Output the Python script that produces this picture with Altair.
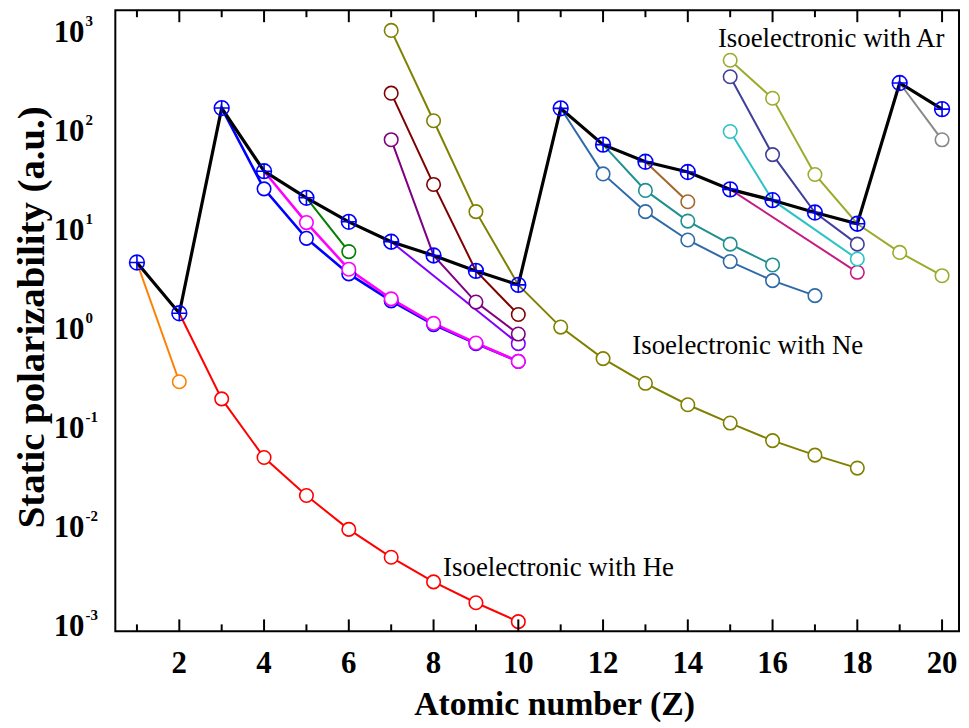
import altair as alt
import pandas as pd

# ---------------- data ----------------
Z_atoms = list(range(1, 21))
alpha_atoms = [4.5, 1.38, 164.0, 37.7, 20.3, 11.6, 7.3, 5.3, 3.7, 2.67,
               163.0, 70.0, 47.0, 37.0, 24.7, 19.2, 14.4, 11.1, 294.0, 160.0]

seq_names = ["H", "He", "Li", "Be", "B", "N", "O", "F", "Ne",
             "Na", "Mg", "Al", "P", "S", "Cl", "Ar", "K"]
seq_colors = ["#ff8000", "#ff0000", "#0000ff", "#ff00ff", "#008000", "#8000ff",
              "#800080", "#800000", "#808000", "#2f6aa8", "#1e9090", "#a5652a",
              "#c71a80", "#2cc2c8", "#40409a", "#9bab2c", "#888888"]

seq_H_Z = [1, 2]
seq_H_alpha = [4.5, 0.28]
seq_He_Z = [2, 3, 4, 5, 6, 7, 8, 9, 10]
seq_He_alpha = [1.38, 0.188, 0.048, 0.0198, 0.0090, 0.0047, 0.00265, 0.00163, 0.00105]
seq_Li_Z = [3, 4, 5, 6, 7, 8, 9, 10]
seq_Li_alpha = [164.0, 25.0, 7.9, 3.45, 1.84, 1.06, 0.68, 0.45]
seq_Be_Z = [4, 5, 6, 7, 8, 9, 10]
seq_Be_alpha = [37.7, 11.4, 3.85, 1.93, 1.09, 0.69, 0.45]
seq_B_Z = [5, 6]
seq_B_alpha = [20.3, 5.8]
seq_N_Z = [7, 10]
seq_N_alpha = [7.3, 0.68]
seq_O_Z = [7, 8, 9, 10]
seq_O_alpha = [78.5, 5.3, 1.79, 0.85]
seq_F_Z = [7, 8, 9, 10]
seq_F_alpha = [232.0, 27.7, 3.7, 1.34]
seq_Ne_Z = [7, 8, 9, 10, 11, 12, 13, 14, 15, 16, 17, 18]
seq_Ne_alpha = [1000.0, 122.0, 14.7, 2.67, 1.0, 0.48, 0.27, 0.164, 0.107, 0.0711, 0.0507, 0.0375]
seq_Na_Z = [11, 12, 13, 14, 15, 16, 17]
seq_Na_alpha = [163.0, 35.4, 14.7, 7.6, 4.6, 2.95, 2.08]
seq_Mg_Z = [12, 13, 14, 15, 16]
seq_Mg_alpha = [70.0, 24.1, 11.8, 6.9, 4.25]
seq_Al_Z = [13, 14]
seq_Al_alpha = [47.0, 18.5]
seq_P_Z = [15, 18]
seq_P_alpha = [24.7, 3.58]
seq_S_Z = [15, 16, 18]
seq_S_alpha = [95.0, 19.2, 4.88]
seq_Cl_Z = [15, 16, 17, 18]
seq_Cl_alpha = [340.0, 55.5, 14.4, 6.9]
seq_Ar_Z = [15, 16, 17, 18, 19, 20]
seq_Ar_alpha = [499.0, 206.0, 34.9, 11.1, 5.69, 3.31]
seq_K_Z = [19, 20]
seq_K_alpha = [294.0, 78.3]

x_tick_values = list(range(1, 21))
y_decades = [1e-3, 1e-2, 1e-1, 1e0, 1e1, 1e2, 1e3]
y_exponents = ["-3", "-2", "-1", "0", "1", "2", "3"]

# ---------------- tables ----------------
seq_data = {
    "H": (seq_H_Z, seq_H_alpha), "He": (seq_He_Z, seq_He_alpha),
    "Li": (seq_Li_Z, seq_Li_alpha), "Be": (seq_Be_Z, seq_Be_alpha),
    "B": (seq_B_Z, seq_B_alpha), "N": (seq_N_Z, seq_N_alpha),
    "O": (seq_O_Z, seq_O_alpha), "F": (seq_F_Z, seq_F_alpha),
    "Ne": (seq_Ne_Z, seq_Ne_alpha), "Na": (seq_Na_Z, seq_Na_alpha),
    "Mg": (seq_Mg_Z, seq_Mg_alpha), "Al": (seq_Al_Z, seq_Al_alpha),
    "P": (seq_P_Z, seq_P_alpha), "S": (seq_S_Z, seq_S_alpha),
    "Cl": (seq_Cl_Z, seq_Cl_alpha), "Ar": (seq_Ar_Z, seq_Ar_alpha),
    "K": (seq_K_Z, seq_K_alpha),
}
rows = []
for name in seq_names:
    zs, vs = seq_data[name]
    for z, v in zip(zs, vs):
        neutral = abs(v - alpha_atoms[z - 1]) < 1e-9
        rows.append({"series": name, "Z": z, "alpha": v, "neutral": neutral})
df = pd.DataFrame(rows)
atoms_df = pd.DataFrame({"Z": Z_atoms, "alpha": alpha_atoms})
ticks_df = pd.DataFrame({"Z": x_tick_values})
dec_df = pd.DataFrame({"dec": y_decades, "exp": y_exponents})

W, H = 849, 625
SERIF = "Liberation Serif"
xscale = alt.Scale(domain=[0.49, 20.4], nice=False, zero=False)
yscale = alt.Scale(type="log", domain=[8.38e-4, 1600], nice=False)

layers = []

# colored isoelectronic lines
for name, col in zip(seq_names, seq_colors):
    sub = df[df["series"] == name]
    w = 2.6 if name in ("Li", "Be") else 2.0
    layers.append(
        alt.Chart(sub).mark_line(color=col, strokeWidth=w).encode(
            x=alt.X("Z:Q", scale=xscale, axis=None),
            y=alt.Y("alpha:Q", scale=yscale, axis=None),
        )
    )

# colored open circles (not at neutral atoms)
layers.append(
    alt.Chart(df[~df["neutral"]]).mark_point(
        shape="circle", size=185, filled=True, fill="white", strokeWidth=1.6, opacity=1
    ).encode(
        x=alt.X("Z:Q", scale=xscale, axis=None),
        y=alt.Y("alpha:Q", scale=yscale, axis=None),
        stroke=alt.Stroke("series:N", scale=alt.Scale(domain=seq_names, range=seq_colors), legend=None),
    )
)

# neutral atoms: black line with blue crossed circles
layers.append(
    alt.Chart(atoms_df).mark_line(color="black", strokeWidth=3.2).encode(
        x=alt.X("Z:Q", scale=xscale,
                axis=alt.Axis(labels=False, ticks=False, grid=False, title=None,
                              domainColor="black", domainWidth=2)),
        y=alt.Y("alpha:Q", scale=yscale,
                axis=alt.Axis(values=y_decades, labels=False, ticks=True, tickSize=12,
                              tickWidth=2, tickColor="black", grid=False, title=None,
                              domainColor="black", domainWidth=2)),
    )
)
layers.append(
    alt.Chart(atoms_df).mark_point(
        shape="M-1,0A1,1,0,1,1,1,0A1,1,0,1,1,-1,0ZM-1,0L1,0M0,-1L0,1",
        size=220, filled=False, color="#0000ff", strokeWidth=1.6, opacity=1
    ).encode(
        x=alt.X("Z:Q", scale=xscale, axis=None),
        y=alt.Y("alpha:Q", scale=yscale, axis=None),
    )
)

# inward x ticks (bottom and top)
major = alt.datum.Z % 2 == 0
minor = alt.datum.Z % 2 == 1
for flt, ln in ((major, 12), (minor, 7)):
    layers.append(
        alt.Chart(ticks_df).transform_filter(flt).mark_rule(color="black", strokeWidth=2).encode(
            x=alt.X("Z:Q", scale=xscale, axis=None), y=alt.value(H), y2=alt.value(H - ln)
        )
    )
    layers.append(
        alt.Chart(ticks_df).transform_filter(flt).mark_rule(color="black", strokeWidth=2).encode(
            x=alt.X("Z:Q", scale=xscale, axis=None), y=alt.value(0), y2=alt.value(ln)
        )
    )

# x tick labels
layers.append(
    alt.Chart(ticks_df).transform_filter(major).mark_text(
        font=SERIF, fontSize=31, fontWeight="bold", baseline="alphabetic", align="center", color="black"
    ).encode(
        x=alt.X("Z:Q", scale=xscale, axis=None), y=alt.value(667), text=alt.Text("Z:Q", format="d")
    )
)

# y tick labels: 10 with superscript exponent
layers.append(
    alt.Chart(dec_df).mark_text(
        font=SERIF, fontSize=31, fontWeight="bold", baseline="alphabetic", align="right",
        dy=12, color="black"
    ).encode(
        y=alt.Y("dec:Q", scale=yscale, axis=None), x=alt.value(-31), text=alt.value("10")
    )
)
layers.append(
    alt.Chart(dec_df).mark_text(
        font=SERIF, fontSize=15, fontWeight="bold", baseline="alphabetic", align="left",
        dy=-4, color="black"
    ).encode(
        y=alt.Y("dec:Q", scale=yscale, axis=None), x=alt.value(-30), text="exp:N"
    )
)

# annotations
one = pd.DataFrame({"k": [0]})
for txt, zx, ay in (("Isoelectronic with Ar", 14.71, 680.0),
                    ("Isoelectronic with Ne", 12.69, 0.53),
                    ("Isoelectronic with He", 8.225, 0.00305)):
    layers.append(
        alt.Chart(one).mark_text(
            font=SERIF, fontSize=27, align="left", baseline="alphabetic", color="black"
        ).encode(
            x=alt.datum(zx, scale=xscale), y=alt.datum(ay), text=alt.value(txt)
        )
    )

# axis titles
layers.append(
    alt.Chart(one).mark_text(
        font=SERIF, fontSize=34, fontWeight="bold", align="center", baseline="alphabetic", color="black"
    ).encode(x=alt.value(442), y=alt.value(709), text=alt.value("Atomic number (Z)"))
)
layers.append(
    alt.Chart(one).mark_text(
        font=SERIF, fontSize=39, fontWeight="bold", align="center", baseline="alphabetic",
        angle=270, color="black"
    ).encode(x=alt.value(-72), y=alt.value(309), text=alt.value("Static polarizability (a.u.)"))
)

chart = alt.layer(*layers).properties(
    width=W, height=H,
    padding={"left": 108, "top": 0, "right": 2, "bottom": 92},
    autosize=alt.AutoSizeParams(type="none"),
).configure_view(stroke="black", strokeWidth=2).configure_axis(grid=False)

chart.save("out.html", embed_options={"renderer": "svg", "actions": False})
